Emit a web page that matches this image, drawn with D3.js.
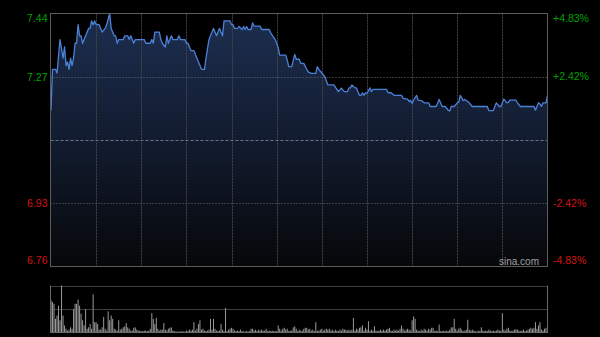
<!DOCTYPE html>
<html>
<head>
<meta charset="utf-8">
<script src="https://cdn.jsdelivr.net/npm/d3@7"></script>
<style>
  html, body { margin: 0; padding: 0; background: #000; }
  svg { display: block; }
  text { font-family: "Liberation Sans", Arial, sans-serif; }
</style>
</head>
<body>
<div class="root"></div>
<script>
// minute of session (0..330), price
const pricePoints = [
  [0, 7.18], [1, 7.29], [3, 7.29], [4, 7.28], [6, 7.37], [8, 7.32], [9, 7.35], [10, 7.30],
  [11, 7.31], [12, 7.29], [13, 7.32], [14, 7.30], [15, 7.32], [16, 7.36], [17, 7.36], [18, 7.41],
  [19, 7.38], [20, 7.38], [21, 7.36], [23, 7.38], [25, 7.40], [26, 7.40], [27, 7.42], [28, 7.41],
  [29, 7.42], [30, 7.41], [32, 7.41], [33, 7.40], [34, 7.39], [36, 7.40], [37, 7.41], [39, 7.44],
  [40, 7.40], [41, 7.39], [42, 7.38], [43, 7.38], [44, 7.36], [45, 7.37], [48, 7.37], [49, 7.38],
  [51, 7.38], [52, 7.37], [53, 7.38], [54, 7.37], [55, 7.36], [56, 7.37], [62, 7.37], [63, 7.36],
  [66, 7.36], [67, 7.37], [68, 7.36], [69, 7.39], [72, 7.39], [73, 7.37], [74, 7.36], [76, 7.35],
  [77, 7.38], [78, 7.36], [79, 7.37], [80, 7.38], [81, 7.37], [84, 7.37], [85, 7.38], [86, 7.37],
  [89, 7.37], [90, 7.36], [91, 7.36], [93, 7.34], [95, 7.34], [97, 7.32], [99, 7.30], [100, 7.29],
  [102, 7.29], [103, 7.32], [105, 7.37], [106, 7.38], [107, 7.39], [108, 7.40], [109, 7.39], [110, 7.38],
  [111, 7.39], [112, 7.40], [114, 7.38], [115, 7.42], [119, 7.42], [120, 7.41], [121, 7.41], [122, 7.40],
  [124, 7.40], [125, 7.405], [127, 7.397], [128, 7.405], [129, 7.397], [130, 7.405], [131, 7.397],
  [133, 7.397], [134, 7.415], [135, 7.406], [139, 7.406], [140, 7.397], [145, 7.397], [146, 7.388],
  [147, 7.382], [149, 7.37], [150, 7.36], [151, 7.349], [152, 7.328], [156, 7.328], [157, 7.315],
  [158, 7.297], [160, 7.297], [162, 7.33], [163, 7.317], [165, 7.317], [166, 7.306], [168, 7.306],
  [170, 7.29], [171, 7.283], [173, 7.279], [176, 7.279], [177, 7.297], [178, 7.29], [180, 7.28],
  [182, 7.27], [183, 7.259], [184, 7.248], [188, 7.248], [190, 7.236], [191, 7.23], [193, 7.239],
  [195, 7.23], [197, 7.23], [198, 7.24], [199, 7.24], [200, 7.248], [202, 7.24], [203, 7.24],
  [205, 7.22], [206, 7.22], [207, 7.227], [208, 7.22], [209, 7.227], [210, 7.225], [212, 7.24],
  [213, 7.23], [214, 7.236], [223, 7.236], [224, 7.227], [226, 7.227], [228, 7.22], [233, 7.22],
  [234, 7.212], [237, 7.21], [238, 7.203], [239, 7.207], [240, 7.198], [241, 7.207], [243, 7.22],
  [244, 7.207], [246, 7.206], [248, 7.20], [251, 7.20], [252, 7.19], [256, 7.19], [258, 7.209],
  [260, 7.19], [262, 7.19], [264, 7.18], [265, 7.178], [266, 7.19], [268, 7.19], [270, 7.20],
  [271, 7.201], [272, 7.22], [274, 7.206], [275, 7.209], [276, 7.206], [278, 7.20], [280, 7.19],
  [290, 7.19], [291, 7.179], [294, 7.179], [295, 7.19], [296, 7.20], [298, 7.19], [299, 7.19],
  [300, 7.20], [301, 7.21], [303, 7.20], [304, 7.201], [305, 7.207], [309, 7.207], [310, 7.20],
  [312, 7.19], [321, 7.19], [322, 7.18], [323, 7.19], [324, 7.20], [325, 7.197], [326, 7.19],
  [327, 7.20], [329, 7.20], [330, 7.22]
];

// one value per minute, relative volume (max = 100)
const volumes = [
  68, 65, 61, 29, 36, 57, 26, 100, 36, 15,
  8, 4, 6, 11, 8, 50, 61, 61, 70, 57,
  40, 26, 15, 50, 8, 11, 18, 8, 81, 22,
  22, 18, 6, 6, 11, 33, 8, 4, 45, 26,
  36, 29, 8, 6, 4, 26, 6, 8, 11, 13,
  20, 11, 8, 4, 4, 10, 11, 6, 4, 4,
  3, 3, 4, 4, 3, 4, 8, 41, 29, 18,
  31, 8, 4, 6, 6, 20, 6, 4, 8, 10,
  11, 4, 3, 2, 2, 2, 2, 3, 2, 2,
  4, 3, 6, 4, 6, 22, 4, 8, 18, 26,
  6, 8, 4, 3, 4, 6, 29, 6, 29, 8,
  4, 3, 4, 18, 6, 3, 52, 3, 6, 8,
  10, 8, 4, 3, 4, 3, 6, 3, 2, 2,
  3, 2, 3, 8, 8, 4, 6, 3, 6, 4,
  6, 4, 4, 8, 3, 4, 3, 4, 3, 3,
  3, 15, 8, 4, 8, 10, 6, 8, 3, 4,
  4, 11, 13, 8, 3, 6, 4, 4, 8, 10,
  10, 6, 8, 4, 6, 3, 22, 4, 4, 6,
  8, 4, 6, 8, 6, 8, 4, 6, 3, 6,
  4, 3, 6, 4, 8, 6, 6, 4, 6, 4,
  6, 31, 4, 8, 6, 10, 11, 15, 4, 10,
  6, 24, 4, 6, 4, 13, 4, 3, 4, 6,
  4, 6, 4, 6, 8, 10, 4, 3, 6, 4,
  6, 4, 8, 15, 8, 4, 6, 8, 6, 4,
  26, 34, 29, 6, 4, 3, 6, 4, 8, 6,
  4, 8, 6, 10, 10, 3, 4, 3, 17, 3,
  3, 4, 3, 4, 3, 6, 11, 11, 29, 8,
  4, 8, 10, 6, 3, 4, 6, 27, 6, 4,
  6, 4, 3, 2, 4, 3, 11, 4, 3, 4,
  3, 6, 4, 3, 4, 3, 4, 6, 4, 4,
  41, 6, 4, 8, 10, 4, 3, 4, 6, 7,
  6, 4, 3, 4, 6, 3, 4, 6, 8, 10,
  8, 10, 22, 8, 15, 22, 6, 4, 8, 10,
  10
];

const priceTicks = [7.44, 7.27, 6.93, 6.76];
const pctTicks = ["+4.83%", "+2.42%", "-2.42%", "-4.83%"];
const prevClose = 7.10;
const sessionMinutes = 330;
const gridMinutes = [30, 60, 90, 120, 150, 180, 210, 240, 270, 300];

const width = 600;
const height = 337;
const plotLeft = 50.5, plotRight = 547.5, plotTop = 13.5, plotBottom = 266.5;
const volTop = 285.5, volBottom = 332.5;

const svg = d3
  .select("div.root")
  .append("svg")
  .attr("width", width)
  .attr("height", height);

svg.append("rect").attr("width", width).attr("height", height).attr("fill", "#000");

const x = d3.scaleLinear().domain([0, sessionMinutes]).range([plotLeft + 0.5, plotRight]);
const y = d3.scaleLinear().domain([6.76, 7.44]).range([plotBottom, plotTop]);
const yv = d3.scaleLinear().domain([0, 100]).range([volBottom, volTop]);

// gradient under the line
const grad = svg.append("defs").append("linearGradient")
  .attr("id", "fill")
  .attr("gradientUnits", "userSpaceOnUse")
  .attr("x1", 0).attr("x2", 0).attr("y1", plotTop).attr("y2", plotBottom);
grad.append("stop").attr("offset", "0%").attr("stop-color", "#1d2e50");
grad.append("stop").attr("offset", "55%").attr("stop-color", "#111a2c");
grad.append("stop").attr("offset", "100%").attr("stop-color", "#060709");

const area = d3.area()
  .x(d => x(d[0]))
  .y0(plotBottom)
  .y1(d => y(d[1]));
svg.append("path").datum(pricePoints).attr("d", area).attr("fill", "url(#fill)");

// grid
svg.selectAll("line.vgrid")
  .data(gridMinutes)
  .enter()
  .append("line")
  .attr("class", "vgrid")
  .attr("x1", d => Math.round(x(d)) + 0.5)
  .attr("x2", d => Math.round(x(d)) + 0.5)
  .attr("y1", plotTop)
  .attr("y2", plotBottom)
  .attr("stroke", "#454545")
  .attr("stroke-dasharray", "2,1");

svg.selectAll("line.hgrid")
  .data([7.27, 6.93])
  .enter()
  .append("line")
  .attr("class", "hgrid")
  .attr("x1", plotLeft)
  .attr("x2", plotRight)
  .attr("y1", d => Math.round(y(d)) + 0.5)
  .attr("y2", d => Math.round(y(d)) + 0.5)
  .attr("stroke", "#6a6a6a")
  .attr("stroke-dasharray", "1,2");

svg.append("line")
  .attr("x1", plotLeft).attr("x2", plotRight)
  .attr("y1", Math.round(y(prevClose)) + 0.5)
  .attr("y2", Math.round(y(prevClose)) + 0.5)
  .attr("stroke", "#6c7486")
  .attr("stroke-dasharray", "3,2");

// price line
const line = d3.line().x(d => x(d[0])).y(d => y(d[1]));
svg.append("path")
  .datum(pricePoints)
  .attr("d", line)
  .attr("fill", "none")
  .attr("stroke", "#4b82d8")
  .attr("stroke-width", 1.3)
  .attr("stroke-linejoin", "round");

// frame
svg.append("rect")
  .attr("x", plotLeft).attr("y", plotTop)
  .attr("width", plotRight - plotLeft).attr("height", plotBottom - plotTop)
  .attr("fill", "none")
  .attr("stroke", "#5c5c5c");

// axis labels
const shift = [5, 0, 0, -6.5];
const yAxis = d3.axisLeft(y).tickValues(priceTicks).tickSize(0).tickPadding(3).tickFormat(d3.format(".2f"));
const gl = svg.append("g").attr("transform", `translate(${plotLeft},0)`).call(yAxis);
gl.select(".domain").remove();
gl.selectAll("text")
  .attr("font-size", 10.5)
  .attr("font-family", "Liberation Sans, Arial, sans-serif")
  .attr("fill", d => (d > prevClose ? "#00a000" : "#d41414"))
  .attr("transform", (d, i) => `translate(0,${shift[i]})`);

svg.selectAll("text.pct")
  .data(pctTicks)
  .enter()
  .append("text")
  .attr("class", "pct")
  .attr("x", plotRight + 5.5)
  .attr("y", (d, i) => y(priceTicks[i]) + shift[i])
  .attr("dy", "0.35em")
  .attr("font-size", 10.5)
  .attr("fill", d => (d[0] === "+" ? "#00a000" : "#d41414"))
  .text(d => d);

svg.append("text")
  .attr("x", 499)
  .attr("y", 265)
  .attr("font-size", 10)
  .attr("fill", "#a0a0a0")
  .text("sina.com");

// volume panel
svg.selectAll("line.vol")
  .data(volumes)
  .enter()
  .append("line")
  .attr("class", "vol")
  .attr("x1", (d, i) => x(i))
  .attr("x2", (d, i) => x(i))
  .attr("y1", yv(0))
  .attr("y2", d => yv(d))
  .attr("stroke", "#9a9a9a")
  .attr("stroke-width", 1);

svg.selectAll("line.vgridv")
  .data([100, 50])
  .enter()
  .append("line")
  .attr("class", "vgridv")
  .attr("x1", plotLeft).attr("x2", plotRight)
  .attr("y1", d => Math.round(yv(d)) + 0.5)
  .attr("y2", d => Math.round(yv(d)) + 0.5)
  .attr("stroke", "#7a7a7a")
  .attr("stroke-dasharray", "1,1");

svg.append("path")
  .attr("d", `M${plotLeft},${volTop}V${volBottom}H${plotRight}V${volTop}`)
  .attr("fill", "none")
  .attr("stroke", "#6a6a6a");
</script>
</body>
</html>
